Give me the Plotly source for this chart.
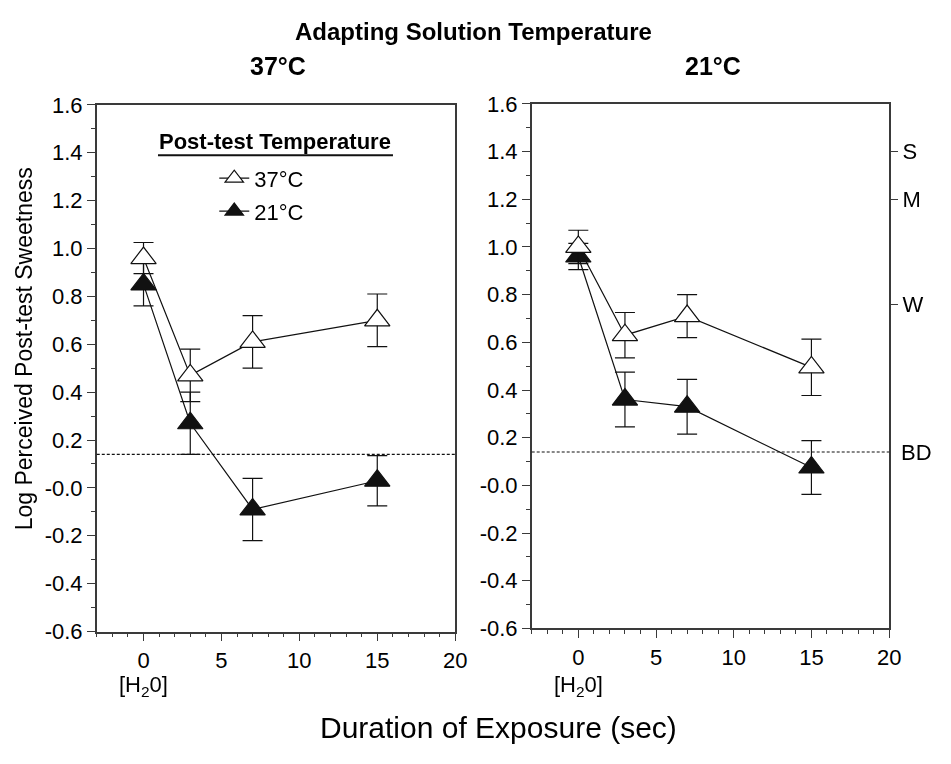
import plotly.graph_objects as go

# ---------------- data ----------------
durations = [0, 3, 7, 15]

# Adapting solution 37°C (left panel)
a37_post37 = [0.96, 0.47, 0.61, 0.70]
a37_post37_err = [0.065, 0.11, 0.11, 0.11]
a37_post21 = [0.85, 0.27, -0.09, 0.03]
a37_post21_err = [0.09, 0.13, 0.13, 0.105]

# Adapting solution 21°C (right panel)
a21_post37 = [1.00, 0.63, 0.71, 0.495]
a21_post37_err = [0.07, 0.095, 0.09, 0.118]
a21_post21 = [0.96, 0.36, 0.33, 0.075]
a21_post21_err = [0.055, 0.115, 0.115, 0.113]

bd_level = 0.14
bd_label = "BD"
y_tickvals = [-0.6, -0.4, -0.2, 0.0, 0.2, 0.4, 0.6, 0.8, 1.0, 1.2, 1.4, 1.6]
y_ticktext = ["-0.6", "-0.4", "-0.2", "-0.0", "0.2", "0.4", "0.6", "0.8",
              "1.0", "1.2", "1.4", "1.6"]
x_tickvals = [0, 5, 10, 15, 20]
intensity_vals = [1.4, 1.2, 0.76]
intensity_text = ["S", "M", "W"]

FONT = "Liberation Sans, Arial, sans-serif"
INK = "#111111"
AXC = "#3a3a3a"
W, H = 951, 764

fig = go.Figure()


def add_series(xa, ya, yvals, errs, filled, name, legend, show):
    fig.add_trace(go.Scatter(
        x=durations, y=yvals, xaxis=xa, yaxis=ya,
        mode="lines+markers", name=name, showlegend=show, legend=legend,
        line=dict(color=INK, width=1.2),
        marker=dict(symbol="triangle-up", size=22,
                    color=INK if filled else "white",
                    line=dict(color=INK, width=1.2)),
        error_y=dict(type="data", array=errs, visible=True,
                     color=INK, thickness=1.2, width=10),
    ))


add_series("x", "y", a37_post21, a37_post21_err, True, "21°C", "legend2", True)
add_series("x", "y", a37_post37, a37_post37_err, False, "37°C", "legend", True)
add_series("x2", "y2", a21_post21, a21_post21_err, True, "21°C", "legend2", False)
add_series("x2", "y2", a21_post37, a21_post37_err, False, "37°C", "legend", False)

# invisible carrier so the right-hand intensity axis (S/M/W) is drawn
fig.add_trace(go.Scatter(x=durations, y=a21_post37, xaxis="x2", yaxis="y3",
                         mode="markers", opacity=0, showlegend=False,
                         hoverinfo="skip", marker=dict(size=1)))

tickfont = dict(family=FONT, size=22, color="#000")


def xaxis_cfg(domain, anchor):
    return dict(domain=domain, anchor=anchor, range=[-3, 20],
                tickmode="array", tickvals=x_tickvals,
                ticks="outside", ticklen=8, tickwidth=1.2, tickcolor=AXC,
                minor=dict(tickmode="linear", tick0=0, dtick=1, ticks="outside",
                           ticklen=4, tickwidth=1.2, tickcolor=AXC),
                showline=True, linecolor=AXC, linewidth=1.5, mirror=True,
                showgrid=False, zeroline=False, tickfont=tickfont)


def yaxis_cfg(domain, anchor):
    return dict(domain=domain, anchor=anchor, range=[-0.6, 1.6],
                tickmode="array", tickvals=y_tickvals, ticktext=y_ticktext,
                ticks="outside", ticklen=8, tickwidth=1.2, tickcolor=AXC,
                minor=dict(tickmode="linear", tick0=-0.6, dtick=0.1, ticks="outside",
                           ticklen=4, tickwidth=1.2, tickcolor=AXC),
                showline=True, linecolor=AXC, linewidth=1.5, mirror=True,
                showgrid=False, zeroline=False, tickfont=tickfont)


ydomL = [1 - 640.5 / H, 1 - 96 / H]
ydomR = [1 - 637.3 / H, 1 - 95 / H]

legfont = dict(family=FONT, size=22, color="#000")

fig.update_layout(
    width=W, height=H,
    margin=dict(l=0, r=0, t=0, b=0),
    paper_bgcolor="white", plot_bgcolor="white",
    font=dict(family=FONT, color="#000"),
    xaxis=xaxis_cfg([98 / W, 461 / W], "y"),
    yaxis=yaxis_cfg(ydomL, "x"),
    xaxis2=xaxis_cfg([538.5 / W, 900.5 / W], "y2"),
    yaxis2=yaxis_cfg(ydomR, "x2"),
    yaxis3=dict(domain=ydomR, anchor="x2", overlaying="y2", side="right",
                range=[-0.6, 1.6], tickmode="array", tickvals=intensity_vals,
                ticktext=intensity_text, ticks="outside", ticklen=8, tickwidth=1.2,
                tickcolor=AXC, showline=False, showgrid=False, zeroline=False,
                tickfont=tickfont),
    legend=dict(x=217 / W, y=1 - 172 / H, xanchor="left", yanchor="middle",
                bgcolor="rgba(0,0,0,0)", font=legfont, itemwidth=30),
    legend2=dict(x=217 / W, y=1 - 206 / H, xanchor="left", yanchor="middle",
                 bgcolor="rgba(0,0,0,0)", font=legfont, itemwidth=30),
)

# Breakpoint (BD) dashed reference lines
for xr, yr in (("x domain", "y"), ("x2 domain", "y2")):
    fig.add_shape(type="line", xref=xr, yref=yr, x0=0, x1=1, y0=bd_level, y1=bd_level,
                  line=dict(color=INK, width=1.2, dash="3px,2px"))

fig.add_annotation(text=bd_label, x=1, y=bd_level, xref="x2 domain", yref="y2",
                   xanchor="left", yanchor="middle", xshift=10, showarrow=False,
                   font=tickfont)

# Legend title underline
fig.add_shape(type="line", xref="paper", yref="paper",
              x0=160 / W, x1=398 / W, y0=1 - 148 / H, y1=1 - 148 / H,
              line=dict(color=INK, width=2))

ann = [
    dict(text="<b>Adapting Solution Temperature</b>", x=480 / W, y=1 - 20 / H, size=24),
    dict(text="<b>37°C</b>", x=282 / W, y=1 - 56 / H, size=25),
    dict(text="<b>21°C</b>", x=722 / W, y=1 - 56 / H, size=25),
    dict(text="<b>Post-test Temperature</b>", x=279 / W, y=1 - 134 / H, size=22),
    dict(text="Duration of Exposure (sec)", x=505 / W, y=1 - 740 / H, size=30),
]
for a in ann:
    fig.add_annotation(text=a["text"], x=a["x"], y=a["y"], xref="paper", yref="paper",
                       xanchor="center", yanchor="middle", showarrow=False,
                       font=dict(family=FONT, size=a["size"], color="#000"))

fig.add_annotation(text="Log Perceived Post-test Sweetness", x=24 / W, y=1 - 348 / H,
                   xref="paper", yref="paper", textangle=-90, showarrow=False,
                   xanchor="center", yanchor="middle",
                   font=dict(family=FONT, size=23, color="#000"))

for xr in ("x", "x2"):
    fig.add_annotation(text="[H<sub>2</sub>0]", x=0, y=1 - 697 / H, xref=xr, yref="paper",
                       showarrow=False, xanchor="center", yanchor="middle",
                       font=dict(family=FONT, size=22, color="#000"))

fig.write_html("out.html")
